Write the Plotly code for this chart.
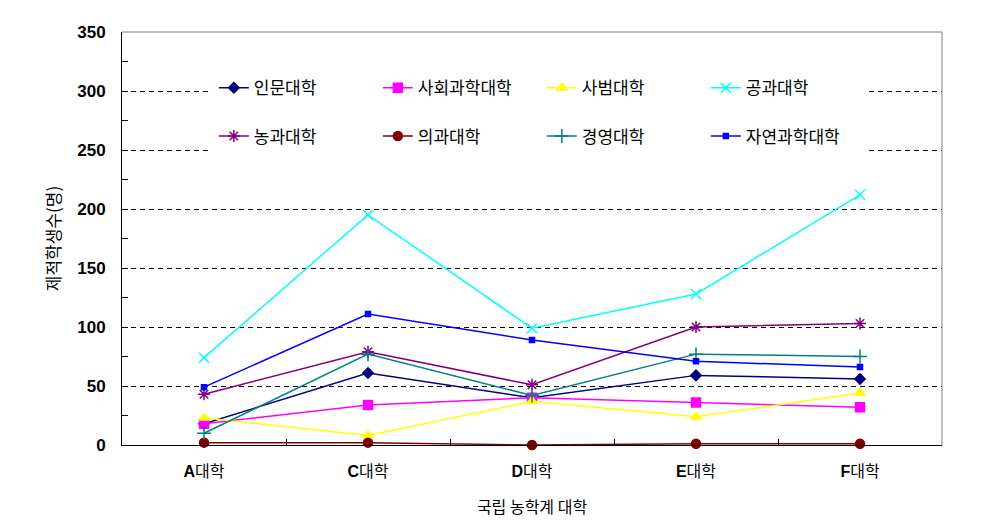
import plotly.graph_objects as go

# ---- data ----
universities = ["A대학", "C대학", "D대학", "E대학", "F대학"]
tick_labels = [f"<b>{u[0]}</b>{u[1:]}" for u in universities]

inmun = [18, 61, 40, 59, 56]
sahoe = [18, 34, 40, 36, 32]
sabeom = [23, 8, 37, 24, 44]
gonggwa = [74, 195, 99, 128, 212]
nonggwa = [43, 79, 51, 100, 103]
uigwa = [2, 2, 0, 1, 1]
gyeongyeong = [10, 77, 42, 77, 75]
jayeon = [49, 111, 89, 71, 66]

y_ticks = [0, 50, 100, 150, 200, 250, 300, 350]

series = [
    ("인문대학", inmun, "#000080", "diamond", 8, "legend"),
    ("사회과학대학", sahoe, "#FF00FF", "square", 9, "legend"),
    ("사범대학", sabeom, "#FFFF00", "triangle-up", 9, "legend"),
    ("공과대학", gonggwa, "#00FFFF", "x-thin-open", 10, "legend"),
    ("농과대학", nonggwa, "#800080", "asterisk-open", 10, "legend2"),
    ("의과대학", uigwa, "#800000", "circle", 9, "legend2"),
    ("경영대학", gyeongyeong, "#008080", "cross-thin-open", 10, "legend2"),
    ("자연과학대학", jayeon, "#0000FF", "square", 5, "legend2"),
]

KFONT = "Noto Sans CJK KR, Noto Sans, sans-serif"

fig = go.Figure()
for name, vals, color, sym, size, leg in series:
    fig.add_trace(go.Scatter(
        x=universities, y=vals, name=name, mode="lines+markers",
        line=dict(color=color, width=1.5),
        marker=dict(symbol=sym, size=size, color=color,
                    line=dict(color=color, width=1.5)),
        cliponaxis=False, legend=leg,
    ))

legend_common = dict(
    orientation="h", xanchor="left", yanchor="middle",
    entrywidth=119, entrywidthmode="pixels",
    bgcolor="rgba(0,0,0,0)", borderwidth=0,
    font=dict(family=KFONT, size=17, color="black"),
)

fig.update_layout(
    width=1000, height=516,
    margin=dict(l=114, r=66, t=24, b=79),
    paper_bgcolor="white", plot_bgcolor="white",
    font=dict(family=KFONT, color="black"),
    legend=dict(x=0.112, y=0.864, **legend_common),
    legend2=dict(x=0.112, y=0.747, **legend_common),
    xaxis=dict(
        type="category", range=[-0.5, 4.5],
        tickvals=universities, ticktext=tick_labels,
        showline=True, linecolor="black", linewidth=1,
        ticks="inside", tickson="boundaries", ticklen=6, tickcolor="black",
        showgrid=False, zeroline=False,
        tickfont=dict(family="Liberation Sans, " + KFONT, size=16, color="black"),
        ticklabelstandoff=12,
        title=dict(text="국립 농학계 대학", font=dict(family=KFONT, size=16, color="black"), standoff=22),
    ),
    yaxis=dict(
        range=[0, 350], tickvals=y_ticks,
        showline=True, linecolor="black", linewidth=1,
        ticks="inside", ticklen=6, tickcolor="black",
        minor=dict(dtick=25, ticks="inside", ticklen=6, tickcolor="black", showgrid=False),
        showgrid=True, gridcolor="black", gridwidth=1, griddash="5px,4px",
        zeroline=False,
        tickfont=dict(family="Liberation Sans, Arial, sans-serif", size=17, color="black", weight="bold"),
        ticklabelstandoff=12,
        title=dict(text="제적학생수(명)", font=dict(family=KFONT, size=17, color="black"), standoff=12),
    ),
    shapes=[
        dict(type="rect", xref="paper", yref="paper", x0=0.107, x1=0.907, y0=0.69, y1=0.925,
             fillcolor="white", line=dict(width=0), layer="above"),
        dict(type="line", xref="paper", yref="paper", x0=0, x1=1, y0=1, y1=1,
             line=dict(color="#808080", width=1), layer="above"),
        dict(type="line", xref="paper", yref="paper", x0=1, x1=1, y0=0, y1=1,
             line=dict(color="#808080", width=1), layer="above"),
    ],
)

fig.write_html("out.html")
